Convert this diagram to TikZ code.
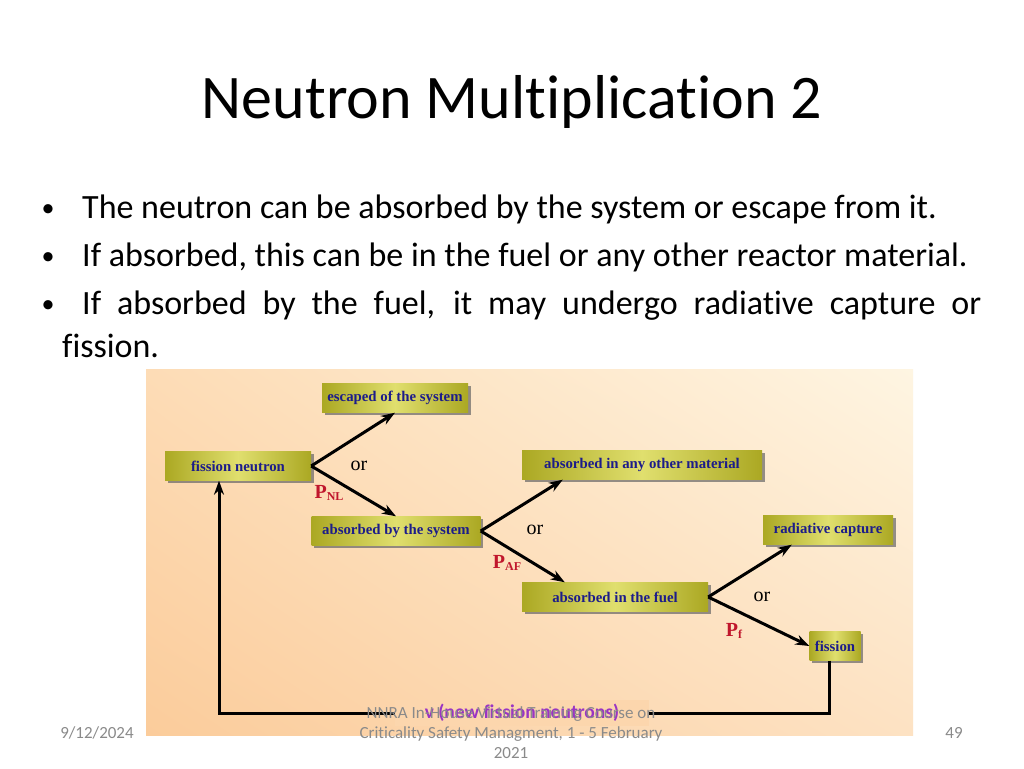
\documentclass[tikz,border=0pt]{standalone}
\usepackage{fontspec}
\setmainfont{Carlito}[Ligatures=NoCommon]
\newfontfamily\timesfont{Liberation Serif}
\usepackage{xcolor}
\usetikzlibrary{arrows.meta,shadows,shadings,positioning}
\definecolor{boxtext}{HTML}{1C1C8A}
\definecolor{olivedark}{HTML}{ABA823}
\definecolor{olivelight}{HTML}{E0DF6E}
\definecolor{plabel}{HTML}{C0162C}
\definecolor{nucolor}{HTML}{9A34C4}
\definecolor{footgray}{HTML}{8A8A8A}
\definecolor{bgul}{HTML}{FDDCB6}
\definecolor{bgur}{HTML}{FEF5E2}
\definecolor{bgll}{HTML}{FBCC9B}
\definecolor{bglr}{HTML}{FDE2C3}

\begin{document}
\begin{tikzpicture}[x=1pt,y=-1pt,
            box/.style={shape=rectangle, minimum height=29pt, inner sep=2pt,
              left color=olivedark, right color=olivedark, middle color=olivelight,
              text=boxtext, font=\timesfont\bfseries\fontsize{14.8}{16}\selectfont,
              drop shadow={shadow xshift=2.5pt, shadow yshift=-2.5pt, fill=black!60, opacity=.7}},
            arr/.style={line width=3pt, -{Stealth[length=14pt,width=10pt]}},
            ortext/.style={inner sep=0pt, font=\timesfont\fontsize{20}{22}\selectfont},
            prob/.style={inner sep=0pt, text=plabel, font=\timesfont\bfseries\fontsize{20}{22}\selectfont},
            bullet/.style={inner sep=0pt, anchor=base west, font=\fontsize{34}{40}\selectfont},
            dot/.style={inner sep=0pt, anchor=base, font=\fontsize{26}{30}\selectfont},
            footer/.style={inner sep=0pt, text=footgray, font=\fontsize{17}{20}\selectfont}]
				\useasboundingbox (0,0) rectangle (1024,768);
				\fill[white] (0,0) rectangle (1024,768);

				\node[inner sep=0pt, anchor=base, font=\fontsize{62}{70}\selectfont] (title) at (512,118) {Neutron Multiplication 2};

				\node[dot] (d1) at (48,216) {•};
				\node[dot] (d2) at (48,264) {•};
				\node[dot] (d3) at (48,312) {•};
				\node[bullet] (t1) at (82,218) {The neutron can be absorbed by the system or escape from it.};
				\node[bullet] (t2) at (82,266) {If absorbed, this can be in the fuel or any other reactor material.};
				\node[bullet] (t3) at (82,314) {\makebox[899pt][s]{If absorbed by the fuel, it may undergo radiative capture or}};
				\node[bullet] (t4) at (62,357) {fission.};

				\shade[upper left=bgul, upper right=bgur, lower left=bgll, lower right=bglr] (146,369) rectangle (913,735);

				\node[box, minimum width=146pt] (esc) at (395,398) {escaped of the system};
				\node[box, minimum width=146pt] (fn) at (238,466) {fission neutron};
				\node[box, minimum width=169pt] (abs) at (396,531) {absorbed by the system};
				\node[box, minimum width=240pt] (oth) at (642,465) {absorbed in any other material};
				\node[box, minimum width=130pt] (rad) at (828,530) {radiative capture};
				\node[box, minimum width=186pt] (fuel) at (615,597) {absorbed in the fuel};
				\node[box, minimum width=51pt, inner sep=1pt] (fis) at (835,646) {fission};

				\draw[arr] (fn.east) -- (esc.south);
				\draw[arr] (fn.east) -- (abs.north);
				\draw[arr] (abs.east) -- ([xshift=41pt]oth.south west);
				\draw[arr] (abs.east) -- ([xshift=43pt]fuel.north west);
				\draw[arr] (fuel.east) -- ([xshift=29pt]rad.south west);
				\draw[arr] (fuel.east) -- (fis.west);
				\draw[arr] ([xshift=-6pt]fis.south) -- ++(0,53) -| ([xshift=-19pt]fn.south);

				\node[ortext] (or1) at (359,466) {or};
				\node[ortext] (or2) at (535,530) {or};
				\node[ortext] (or3) at (762,597) {or};
				\node[prob] (pnl) at (329,493) {P\raisebox{-2pt}{\fontsize{12}{12}\selectfont NL}};
				\node[prob] (paf) at (507,563) {P\raisebox{-2pt}{\fontsize{12}{12}\selectfont AF}};
				\node[prob] (pf) at (734,631) {P\raisebox{-2pt}{\fontsize{12}{12}\selectfont f}};

				\node[fill=bgll!55!bglr, inner xsep=30pt, inner ysep=4pt, text=nucolor,
				      font=\bfseries\fontsize{19.5}{22}\selectfont] (nu) at (522,713) {ν (new fission neutrons)};

				\node[footer, align=center] (foot) at (511,733) {NNRA In-House Virtual Training Course on\\Criticality Safety Managment, 1 - 5 February\\2021};
				\node[footer] (date) at (97,733) {9/12/2024};
				\node[footer] (page) at (954,733) {49};
 		\end{tikzpicture}
\end{document}
